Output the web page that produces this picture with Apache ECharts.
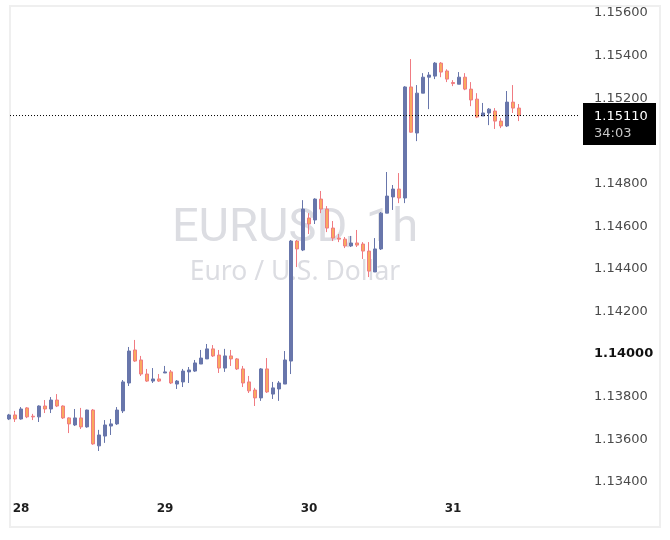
<!DOCTYPE html>
<html>
<head>
<meta charset="utf-8">
<title>EURUSD, 1h</title>
<script src="https://cdn.jsdelivr.net/npm/echarts@6/dist/echarts.min.js"></script>
<style>
  html, body { margin: 0; padding: 0; background: #fff; }
  #main { width: 670px; height: 540px; }
</style>
</head>
<body>
<div id="main"></div>
<script>
// hourly candles, index 0..85
var openV = [
  1.13686, 1.13705, 1.13686, 1.13738, 1.13699, 1.13696, 1.13747, 1.13733, 1.13775, 1.13747,
  1.13691, 1.13658, 1.13691, 1.13649, 1.13728, 1.13560, 1.13606, 1.13653, 1.13663, 1.13724,
  1.13855, 1.14010, 1.13963, 1.13897, 1.13864, 1.13874, 1.13902, 1.13907, 1.13850, 1.13860,
  1.13907, 1.13911, 1.13944, 1.13968, 1.14015, 1.13986, 1.13925, 1.13982, 1.13968, 1.13921,
  1.13860, 1.13822, 1.13785, 1.13921, 1.13803, 1.13827, 1.13850, 1.13958, 1.14521, 1.14479,
  1.14629, 1.14620, 1.14718, 1.14671, 1.14582, 1.14535, 1.14530, 1.14498, 1.14512, 1.14507,
  1.14474, 1.14376, 1.14484, 1.14652, 1.14728, 1.14765, 1.14723, 1.15244, 1.15028, 1.15215,
  1.15290, 1.15295, 1.15356, 1.15319, 1.15265, 1.15257, 1.15290, 1.15234, 1.15187, 1.15108,
  1.15122, 1.15131, 1.15084, 1.15061, 1.15173, 1.15145
];
var closeV = [
  1.13705, 1.13686, 1.13733, 1.13696, 1.13696, 1.13747, 1.13733, 1.13775, 1.13747, 1.13691,
  1.13663, 1.13691, 1.13649, 1.13728, 1.13569, 1.13611, 1.13658, 1.13663, 1.13728, 1.13860,
  1.14005, 1.13958, 1.13897, 1.13864, 1.13874, 1.13864, 1.13907, 1.13855, 1.13864, 1.13911,
  1.13916, 1.13949, 1.13972, 1.14015, 1.13982, 1.13925, 1.13982, 1.13968, 1.13921, 1.13855,
  1.13818, 1.13785, 1.13921, 1.13813, 1.13832, 1.13855, 1.13963, 1.14521, 1.14484, 1.14671,
  1.14601, 1.14718, 1.14671, 1.14582, 1.14535, 1.14530, 1.14498, 1.14512, 1.14502, 1.14474,
  1.14380, 1.14484, 1.14652, 1.14732, 1.14765, 1.14723, 1.15244, 1.15032, 1.15215, 1.15290,
  1.15300, 1.15356, 1.15314, 1.15281, 1.15260, 1.15290, 1.15234, 1.15183, 1.15103, 1.15122,
  1.15140, 1.15084, 1.15061, 1.15173, 1.15145, 1.15110
];
var lowV = [
  1.13681, 1.13672, 1.13683, 1.13690, 1.13681, 1.13672, 1.13714, 1.13714, 1.13742, 1.13686,
  1.13620, 1.13653, 1.13639, 1.13645, 1.13565, 1.13536, 1.13574, 1.13611, 1.13658, 1.13714,
  1.13841, 1.13954, 1.13888, 1.13860, 1.13855, 1.13860, 1.13902, 1.13850, 1.13827, 1.13836,
  1.13855, 1.13907, 1.13944, 1.13968, 1.13977, 1.13902, 1.13907, 1.13935, 1.13916, 1.13836,
  1.13808, 1.13747, 1.13771, 1.13808, 1.13780, 1.13771, 1.13850, 1.13897, 1.14399, 1.14474,
  1.14554, 1.14601, 1.14652, 1.14563, 1.14521, 1.14516, 1.14488, 1.14493, 1.14493, 1.14437,
  1.14352, 1.14376, 1.14479, 1.14652, 1.14667, 1.14699, 1.14699, 1.15030, 1.14990, 1.15215,
  1.15140, 1.15281, 1.15290, 1.15267, 1.15248, 1.15257, 1.15229, 1.15154, 1.15098, 1.15108,
  1.15065, 1.15047, 1.15051, 1.15056, 1.15122, 1.15084
];
var highV = [
  1.13710, 1.13724, 1.13742, 1.13742, 1.13710, 1.13750, 1.13775, 1.13789, 1.13803, 1.13750,
  1.13694, 1.13733, 1.13738, 1.13730, 1.13733, 1.13635, 1.13681, 1.13686, 1.13742, 1.13869,
  1.14024, 1.14057, 1.13982, 1.13921, 1.13925, 1.13897, 1.13935, 1.13916, 1.13869, 1.13921,
  1.13930, 1.13963, 1.14010, 1.14038, 1.14033, 1.14010, 1.14015, 1.14010, 1.13972, 1.13935,
  1.13888, 1.13832, 1.13925, 1.13972, 1.13860, 1.13864, 1.14005, 1.14526, 1.14526, 1.14713,
  1.14652, 1.14722, 1.14756, 1.14685, 1.14615, 1.14554, 1.14540, 1.14545, 1.14573, 1.14516,
  1.14516, 1.14535, 1.14657, 1.14845, 1.14784, 1.14840, 1.15248, 1.15375, 1.15253, 1.15309,
  1.15314, 1.15361, 1.15361, 1.15327, 1.15276, 1.15314, 1.15309, 1.15267, 1.15215, 1.15169,
  1.15145, 1.15145, 1.15098, 1.15225, 1.15253, 1.15164
];

// time axis: candle index where each day starts
var dayIdx = [2, 26, 50, 74];
var dayLabels = ['28', '29', '30', '31'];

// price scale ticks
var yTicks = [1.134, 1.136, 1.138, 1.140, 1.142, 1.144, 1.146, 1.148, 1.152, 1.154, 1.156];
var boldTick = 1.140;

var lastPrice = 1.15110;
var countdown = '34:03';
var symbolName = 'EURUSD, 1h';
var symbolDesc = 'Euro / U.S. Dollar';

var xMin = 0.16667, xMax = 95.16667;

var upColor = '#6876ab';
var downFill = '#f9aa5e';
var downBorder = '#f07b82';
var wmColor = '#dcdde2';

var candles = openV.map(function(o, i) {
    return [i, o, closeV[i], lowV[i], highV[i]];
});

var option = {
    animation: false,
    backgroundColor: '#ffffff',
    title: [
        {
            text: symbolName, left: 295, top: 206, textAlign: 'center', z: 0, silent: true,
            padding: 0,
            textStyle: { fontFamily: 'Roboto', fontSize: 47, fontWeight: 'normal', color: wmColor }
        },
        {
            text: symbolDesc, left: 295, top: 259, textAlign: 'center', z: 0, silent: true,
            padding: 0,
            textStyle: { fontFamily: 'Noto Sans', fontSize: 26.5, fontWeight: 'normal', color: wmColor }
        }
    ],
    grid: { left: 10, right: 90, top: 6, bottom: 43 },
    xAxis: {
        type: 'value',
        min: xMin,
        max: xMax,
        axisLine: { show: false },
        axisTick: { show: false },
        splitLine: { show: false },
        axisLabel: {
            customValues: dayIdx,
            margin: 6,
            fontFamily: 'DejaVu Sans',
            fontSize: 12,
            fontWeight: 'bold',
            color: '#1e1e1e',
            formatter: function(v) {
                var k = dayIdx.indexOf(Math.round(v));
                return k < 0 ? '' : dayLabels[k];
            }
        }
    },
    yAxis: {
        type: 'value',
        position: 'right',
        min: 1.13320,
        max: 1.15624,
        axisLine: { show: false },
        axisTick: { show: false },
        splitLine: { show: false },
        axisLabel: {
            customValues: yTicks,
            margin: 14,
            align: 'left',
            padding: [4, 0, 0, 0],
            fontFamily: 'DejaVu Sans',
            fontSize: 13,
            color: '#4a4a4a',
            formatter: function(v) {
                var s = v.toFixed(5);
                return Math.abs(v - boldTick) < 1e-9 ? '{b|' + s + '}' : s;
            },
            rich: {
                b: { fontFamily: 'DejaVu Sans', fontSize: 13, fontWeight: 'bold', color: '#111' }
            }
        }
    },
    series: [
        {
            type: 'candlestick',
            data: candles,
            encode: { x: 0, y: [1, 2, 3, 4] },
            barWidth: 4,
            clip: true,
            z: 3,
            itemStyle: {
                color: upColor,
                color0: downFill,
                borderColor: upColor,
                borderColor0: downBorder,
                borderWidth: 1
            }
        },
        {
            // last price dotted line
            type: 'line',
            data: [[xMin, lastPrice], [xMax, lastPrice]],
            showSymbol: false,
            silent: true,
            z: 4,
            lineStyle: { color: '#000', type: [1, 2], width: 1 }
        }
    ]
};

var chart = echarts.init(document.getElementById('main'));
chart.setOption(option);

// frame and last price tag, placed with the chart's own scale
var py = Math.round(chart.convertToPixel({ yAxisIndex: 0 }, lastPrice));
chart.setOption({
    graphic: {
        elements: [
            {
                type: 'rect', silent: true, z: 1,
                shape: { x: 10, y: 6, width: 650, height: 521 },
                style: { fill: 'none', stroke: '#efefef', lineWidth: 2 }
            },
            {
                type: 'rect', silent: true, z: 10,
                shape: { x: 583, y: py - 13, width: 73, height: 42 },
                style: { fill: '#000' }
            },
            {
                type: 'text', silent: true, z: 11, x: 594, y: py + 1,
                style: {
                    text: lastPrice.toFixed(5), fill: '#ffffff',
                    font: '13px "DejaVu Sans"',
                    align: 'left', verticalAlign: 'middle',
                    textAlign: 'left', textVerticalAlign: 'middle'
                }
            },
            {
                type: 'text', silent: true, z: 11, x: 594, y: py + 18,
                style: {
                    text: countdown, fill: '#c8c8c8',
                    font: '13px "DejaVu Sans"',
                    align: 'left', verticalAlign: 'middle',
                    textAlign: 'left', textVerticalAlign: 'middle'
                }
            }
        ]
    }
});
</script>
</body>
</html>
